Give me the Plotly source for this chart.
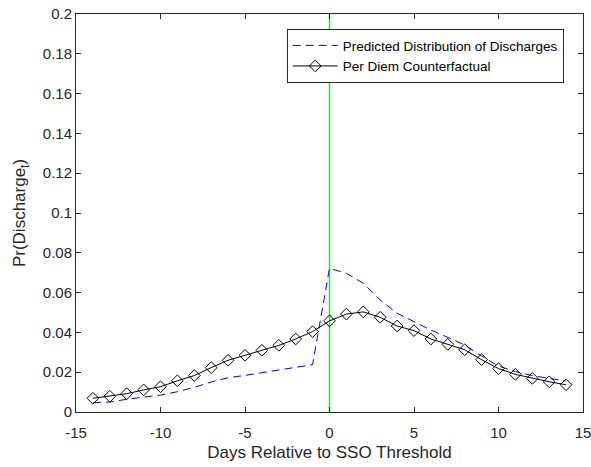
import plotly.graph_objects as go

days = list(range(-14, 15))
predicted = [0.0047, 0.0050, 0.0064, 0.0074, 0.0085, 0.0102, 0.0124, 0.0151, 0.0172,
             0.0184, 0.0198, 0.0211, 0.0224, 0.0238, 0.0722, 0.0697, 0.0647, 0.0563,
             0.0496, 0.0454, 0.0412, 0.0375, 0.0337, 0.0281, 0.0231, 0.0203, 0.0183,
             0.0169, 0.0156]
per_diem = [0.0069, 0.0079, 0.0092, 0.0111, 0.0127, 0.0157, 0.0183, 0.0223, 0.0260,
            0.0285, 0.0310, 0.0335, 0.0367, 0.0404, 0.0458, 0.0492, 0.0503, 0.0476,
            0.0432, 0.0409, 0.0367, 0.0340, 0.0313, 0.0263, 0.0218, 0.0189, 0.0169,
            0.0152, 0.0137]
threshold_x = [0, 0]
threshold_y = [0, 0.2]

x_ticks = [-15, -10, -5, 0, 5, 10, 15]
y_ticks = [0, 0.02, 0.04, 0.06, 0.08, 0.1, 0.12, 0.14, 0.16, 0.18, 0.2]
y_tick_text = ["0", "0.02", "0.04", "0.06", "0.08", "0.1", "0.12", "0.14", "0.16", "0.18", "0.2"]

axis_color = "#262626"
font_family = "Liberation Sans, Arial, sans-serif"

fig = go.Figure()
fig.add_trace(go.Scatter(
    x=threshold_x, y=threshold_y, mode="lines",
    line=dict(color="#00FF00", width=1.5), showlegend=False, hoverinfo="skip"))
fig.add_trace(go.Scatter(
    x=days, y=predicted, mode="lines", name="Predicted Distribution of Discharges",
    line=dict(color="#0000FF", width=1, dash="8px,5px")))
fig.add_trace(go.Scatter(
    x=days, y=per_diem, mode="lines+markers", name="Per Diem Counterfactual",
    line=dict(color="black", width=1),
    marker=dict(symbol="diamond-open", size=9, color="black", line=dict(width=1))))

axis_common = dict(
    showgrid=False, zeroline=False, showline=True, linecolor=axis_color, linewidth=1,
    mirror="ticks", ticks="inside", ticklen=5, tickcolor=axis_color, automargin=False,
    ticklabeloverflow="allow",
    tickfont=dict(family=font_family, size=15, color=axis_color),
)

fig.update_layout(
    width=591, height=467,
    margin=dict(l=76, r=8, t=14, b=55),
    paper_bgcolor="white", plot_bgcolor="white",
    font=dict(family=font_family, color=axis_color),
    xaxis=dict(range=[-15, 15], tickvals=x_ticks, ticktext=[str(v) for v in x_ticks],
               ticklabelstandoff=7,
               title=dict(text="Days Relative to SSO Threshold", standoff=6,
                          font=dict(family=font_family, size=17, color=axis_color)),
               **axis_common),
    yaxis=dict(range=[0, 0.2], tickvals=y_ticks, ticktext=y_tick_text,
               ticklabelstandoff=0,
               title=dict(text="Pr(Discharge<sub>t</sub>)", standoff=12,
                          font=dict(family=font_family, size=17, color=axis_color)),
               **axis_common),
    legend=dict(x=0.962, xanchor="right", y=0.962, yanchor="top",
                bgcolor="white", bordercolor=axis_color, borderwidth=1,
                font=dict(family=font_family, size=13.5, color="black"),
                tracegroupgap=0, itemwidth=45),
    showlegend=True,
)

fig.write_html("out.html", config={"displayModeBar": False},
               post_script="document.body.style.margin='0';")
